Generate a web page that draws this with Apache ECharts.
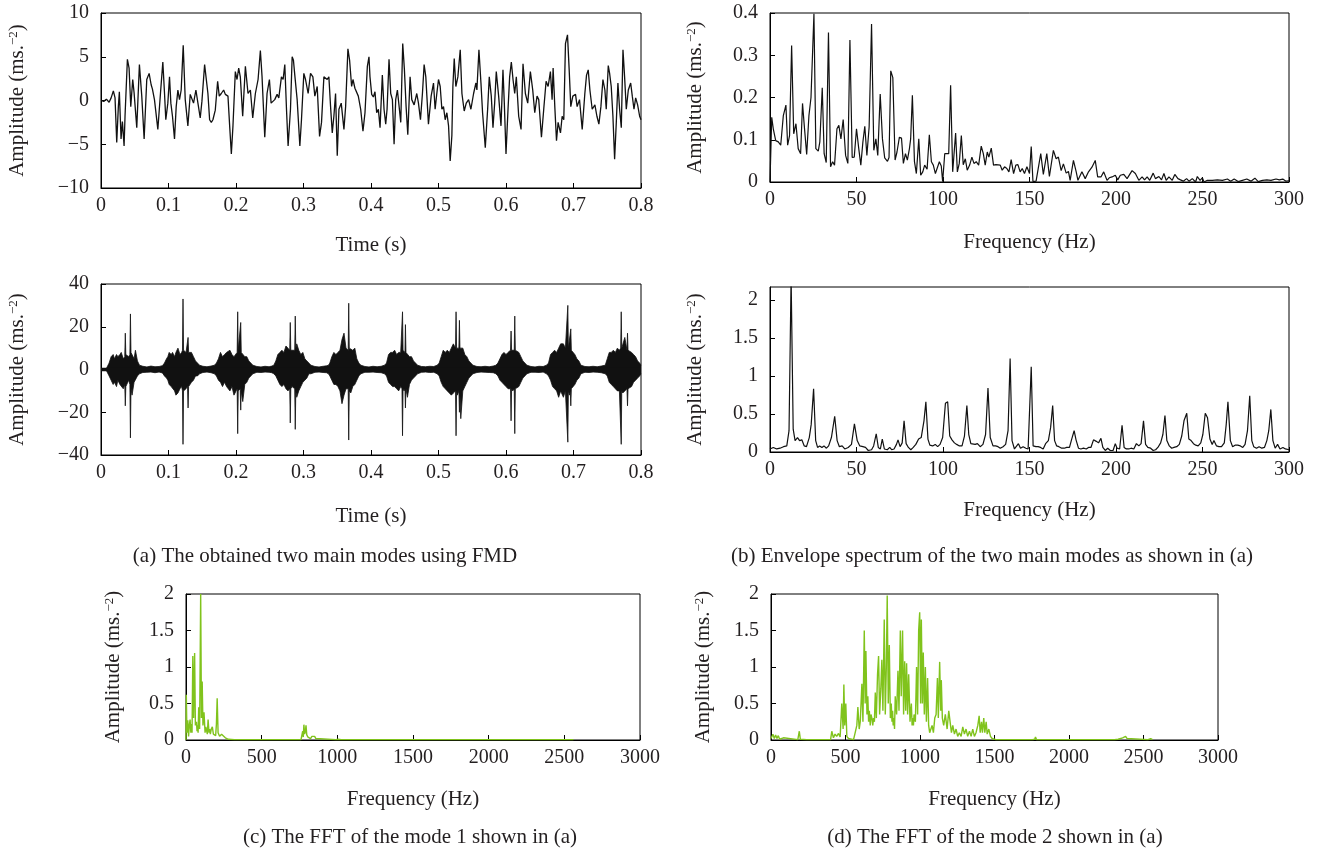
<!DOCTYPE html>
<html>
<head>
<meta charset="utf-8">
<script src="https://cdn.jsdelivr.net/npm/echarts@6/dist/echarts.min.js"></script>
<style>
  body { margin: 0; background: #fff; }
  #chart { width: 1319px; height: 852px; }
</style>
</head>
<body>
<div id="chart"></div>
<script>
// mode 1 time signal [time s, amplitude]
const mode1Signal = [
  [0,0],[0.004,-0.1],[0.008,0.15],[0.012,-0.2],[0.015,0.3],[0.0183,1.1],[0.0208,0.3],[0.0233,-4.8],[0.0257,-0.7],[0.0272,1.0],
  [0.0297,-4.4],[0.0317,-2.4],[0.0342,-5.2],[0.0356,-1.8],[0.0391,4.7],[0.0416,3.7],[0.0441,-0.7],[0.047,2.4],[0.049,0.9],[0.053,-3.1],
  [0.0569,4.1],[0.0604,0.5],[0.0639,-4.4],[0.0678,2.4],[0.0713,3.1],[0.0743,1.8],[0.0762,1.3],[0.0792,0.1],[0.0842,-3.3],[0.0881,0.8],
  [0.0916,4.4],[0.0941,0.8],[0.096,-2.2],[0.099,-0.3],[0.1015,2.7],[0.1035,-0.3],[0.1059,-1.8],[0.1089,-4.4],[0.1114,-0.7],[0.1139,1.2],
  [0.1163,0.1],[0.1188,1.2],[0.1218,6.3],[0.1248,0.1],[0.1287,-2.9],[0.1322,0.7],[0.1347,0.5],[0.1371,-0.3],[0.1406,1.2],[0.1436,-0.3],
  [0.147,-2.0],[0.1495,-0.1],[0.1535,4.1],[0.1554,4.2],[0.1584,0.8],[0.1609,-2.2],[0.1634,-2.5],[0.1658,-2.2],[0.1693,-1.1],[0.1728,2.2],
  [0.1752,0.5],[0.1782,0.8],[0.1817,1.2],[0.1842,0.7],[0.1881,0.5],[0.1906,-2.9],[0.1931,-6.1],[0.1955,-2.9],[0.199,3.3],[0.2015,2.4],
  [0.204,3.7],[0.2064,2.7],[0.2099,-1.8],[0.2139,3.9],[0.2178,0.8],[0.2213,1.2],[0.2248,-2.0],[0.2287,0.8],[0.2327,2.4],[0.2361,5.7],
  [0.2386,2.7],[0.2426,-4.2],[0.246,0.8],[0.2495,2.4],[0.252,-0.3],[0.2545,-0.5],[0.2574,0.1],[0.2609,0.7],[0.2634,0.3],[0.2673,2.7],
  [0.2698,2.4],[0.2723,4.1],[0.2748,-1.0],[0.2772,-5.2],[0.2807,-1.0],[0.2832,5.0],[0.2851,4.6],[0.2871,2.9],[0.2906,0.1],[0.2946,-5.2],
  [0.297,-2.2],[0.3005,3.1],[0.303,2.4],[0.3069,0.8],[0.3104,3.1],[0.3139,2.7],[0.3168,0.5],[0.3203,1.6],[0.3238,-4.1],[0.3267,-2.5],
  [0.3302,2.7],[0.3327,2.9],[0.3351,2.4],[0.3376,2.7],[0.3401,-0.7],[0.3426,-3.7],[0.345,-1.8],[0.3475,0.8],[0.35,-6.3],[0.3525,-1.0],
  [0.3559,-0.3],[0.3599,-3.3],[0.3624,-0.7],[0.3658,5.9],[0.3683,4.6],[0.3713,1.6],[0.3733,2.4],[0.3762,1.4],[0.3787,1.2],[0.3812,0.5],
  [0.3847,-1.0],[0.3881,-3.5],[0.3911,-1.4],[0.3946,3.9],[0.397,5.0],[0.3985,2.7],[0.401,0.7],[0.4035,0.4],[0.4059,1.0],[0.4084,-1.4],
  [0.4109,-1.0],[0.4134,-3.1],[0.4168,2.9],[0.4193,-1.0],[0.4218,-2.7],[0.4238,-1.0],[0.4267,4.7],[0.4292,0.8],[0.4317,0.1],[0.4342,-5.0],
  [0.4366,0.1],[0.4391,1.2],[0.4416,1.4],[0.4441,-2.5],[0.447,6.5],[0.4495,3.5],[0.452,-0.7],[0.4545,-3.9],[0.4579,2.7],[0.4604,0.1],
  [0.4639,-0.5],[0.4678,0.8],[0.4703,-0.3],[0.4733,-2.2],[0.4762,0.8],[0.4787,4.1],[0.4812,2.7],[0.4851,-2.7],[0.4891,0.5],[0.4926,2.0],
  [0.495,-1.0],[0.4975,0.8],[0.5,2.4],[0.5025,1.6],[0.505,-1.0],[0.5074,-0.7],[0.5099,-2.2],[0.5124,-1.4],[0.5149,-2.9],[0.5173,-6.9],
  [0.5198,-4.0],[0.5213,1.6],[0.5233,4.8],[0.5257,1.6],[0.5287,2.7],[0.5322,5.8],[0.5347,0.8],[0.5381,-1.2],[0.5411,-0.3],[0.5446,0.1],
  [0.548,-1.0],[0.552,0.8],[0.5554,2.0],[0.5569,1.2],[0.5599,5.8],[0.5629,2.0],[0.5653,-1.4],[0.5693,-5.4],[0.5728,-1.0],[0.5752,2.7],
  [0.5782,0.5],[0.5807,-3.1],[0.5832,-0.3],[0.5856,3.3],[0.5891,0.5],[0.5926,-2.9],[0.5955,3.5],[0.5975,-0.3],[0.6,-6.1],[0.603,-1.0],
  [0.6054,2.7],[0.6079,4.4],[0.6104,2.4],[0.6129,0.8],[0.6153,2.7],[0.6188,-1.8],[0.6223,-3.3],[0.6252,4.2],[0.6287,0.8],[0.6322,-0.3],
  [0.6361,3.3],[0.6396,1.2],[0.6426,-1.4],[0.646,0.5],[0.6485,0.1],[0.6525,-4.2],[0.6559,-1.0],[0.6594,2.2],[0.6624,1.6],[0.6658,3.3],
  [0.6683,0.1],[0.6698,3.7],[0.6723,-0.7],[0.6748,-4.6],[0.6772,-2.5],[0.6807,-3.7],[0.6832,-1.8],[0.6856,-2.2],[0.6881,6.5],[0.6911,7.5],
  [0.6936,3.5],[0.696,-0.7],[0.699,0.5],[0.703,0.7],[0.7054,-0.7],[0.7089,0.1],[0.7129,-3.3],[0.7168,0.8],[0.7193,2.9],[0.7218,3.5],
  [0.7243,1.2],[0.7277,-1.0],[0.7317,-0.5],[0.7347,-1.8],[0.7376,-2.7],[0.7406,-0.7],[0.7436,2.4],[0.7465,1.2],[0.7485,-1.0],[0.7515,4.0],
  [0.7535,3.1],[0.7559,1.6],[0.7584,-1.8],[0.7609,-6.7],[0.7634,-2.5],[0.7658,2.0],[0.7683,-1.0],[0.7708,-3.1],[0.7733,5.8],[0.7757,2.7],
  [0.7782,-1.0],[0.7812,1.2],[0.7847,2.0],[0.7871,0.5],[0.7896,-1.0],[0.7921,0.3],[0.795,-0.5],[0.798,-1.8],[0.8,-2.2]
]

// envelope spectrum of mode 1 [Hz, amplitude]
const envelope1 = [
  [0,0],[1,0.153],[1.9,0.126],[3.3,0.098],[4.8,0.095],[6.2,0.087],[7.7,0.157],[9.2,0.182],[10.2,0.087],[11.3,0.11],
  [12.5,0.323],[13.7,0.114],[15,0.138],[16.3,0.079],[17.7,0.067],[18.8,0.186],[19.8,0.134],[21.2,0.065],[22.5,0.157],[23.7,0.2],
  [25.4,0.398],[26.5,0.079],[27.9,0.073],[28.8,0.095],[30.2,0.223],[31.3,0.067],[32.5,0.046],[33.8,0.354],[35,0.036],[36.2,0.048],
  [37.3,0.04],[38.7,0.126],[39.8,0.134],[41,0.102],[42.3,0.148],[43.7,0.063],[45,0.044],[46.2,0.336],[47.5,0.058],[48.7,0.059],
  [50,0.126],[51.3,0.079],[52.5,0.04],[53.7,0.095],[54.8,0.132],[56,0.063],[57.3,0.13],[58.7,0.374],[60,0.075],[61.2,0.102],
  [62.3,0.063],[63.7,0.208],[65,0.102],[66.3,0.057],[67.9,0.049],[68.8,0.058],[69.8,0.263],[71,0.247],[72.3,0.052],[73.4,0.071],
  [74.8,0.106],[76,0.104],[77.1,0.044],[78.3,0.067],[79.4,0.052],[80.6,0.079],[81.3,0.102],[82.3,0.205],[83.5,0.048],[84.6,0.02],
  [86,0.102],[87.1,0.016],[88.3,0.024],[89.4,0.04],[90.8,0.03],[92.1,0.112],[93.3,0.048],[94.4,0.04],[95.6,0.02],[96.7,0.02],
  [97.9,0.048],[99,0.038],[99.8,0.001],[101,0.067],[102.1,0.063],[103.3,0.067],[104.4,0.229],[105.6,0.024],[106.5,0.024],[107.3,0.116],
  [108.3,0.024],[109.4,0.044],[110.6,0.11],[111.7,0.041],[112.9,0.055],[114,0.028],[115.4,0.04],[116.7,0.059],[117.9,0.044],[119.2,0.048],
  [120.6,0.04],[122.1,0.085],[123.3,0.067],[124.4,0.04],[125.6,0.071],[126.5,0.059],[127.9,0.08],[129.2,0.04],[130.6,0.041],[131.7,0.044],
  [133.1,0.04],[134.2,0.028],[135.6,0.036],[136.9,0.032],[138.1,0.024],[139.4,0.053],[140.8,0.02],[142.1,0.04],[143.3,0.041],[144.6,0.024],
  [145.8,0.032],[147.1,0.02],[148.5,0.036],[150,0.02],[151,0.084],[152,0.001],[153.8,0.002],[156.5,0.067],[158,0.018],[160,0.067],
  [161.5,0.013],[163.8,0.075],[165.4,0.055],[166.7,0.059],[168.3,0.027],[169.6,0.043],[171.2,0.021],[172.5,0.025],[173.5,0.004],[175.4,0.051],
  [177,0.024],[178,0.004],[180.3,0.024],[182.2,0.008],[184.1,0.024],[186.1,0.035],[188,0.051],[189.4,0.012],[191.3,0.012],[192.9,0.024],
  [194.8,0.004],[196.1,0.01],[197.7,0.012],[199.6,0.016],[201,0.005],[202.5,0.016],[204.5,0.018],[206.4,0.008],[209.3,0.027],[211.2,0.02],
  [213.2,0.004],[215.1,0.012],[216.5,0.005],[218,0.012],[219.5,0.004],[221.5,0.021],[222.8,0.008],[224.8,0.013],[226.3,0.005],[227.7,0.02],
  [229,0.004],[230.6,0.012],[232.5,0.004],[234,0.018],[235.8,0.008],[237.3,0.005],[238.9,0.002],[240.8,0.008],[242.2,0.002],[244.1,0.008],
  [246,0],[247,0.013],[248.6,0.004],[249.9,0.01],[250.9,0],[252.8,0.004],[255.7,0.004],[258.6,0.005],[261.5,0.004],[264.4,0.007],
  [266.3,0.002],[268.3,0.007],[270.6,0.001],[273.1,0.004],[275.6,0.007],[278,0.002],[280.3,0.009],[282.2,0.001],[284.7,0.004],[287.2,0.005],
  [289.6,0.004],[292.5,0.007],[294.4,0.005],[296.4,0.007],[298.3,0.002],[300,0.003]
]

// mode 2 time signal, read as envelope [time s, upper, lower]
const mode2Envelope = [
  [0,0.3,-0.3],[0.004,0.4,-0.4],[0.008,0.5,-0.5],[0.01,1,-1],
  [0.012,3,-3],[0.015,6,-5],[0.018,7,-7],[0.02,5,-6],[0.023,7,-8],[0.025,6,-5],[0.028,7,-7],[0.03,8,-7],[0.033,5,-9],
  [0.0352,6,-7],[0.036,17,-17],[0.0368,7,-8],[0.039,7,-8],[0.041,6,-5],[0.0428,7,-7],[0.0436,26,-32],[0.0444,8,-9],
  [0.046,8,-12],[0.049,5,-6],[0.051,9,-6],[0.054,4,-3],[0.057,2,-2],
  [0.062,1.5,-1.4],[0.068,1.2,-1.3],[0.074,1.6,-1.2],[0.08,1.3,-1.5],[0.086,1.4,-1.2],[0.091,1.8,-1.6],
  [0.094,3,-3],[0.097,5,-4],[0.099,6,-5],[0.101,8,-7],[0.104,7,-8],[0.106,8,-8],[0.109,6,-10],[0.111,8,-12],[0.114,10,-11],
  [0.117,7,-9],[0.1195,8,-8],[0.1207,9,-10],[0.1215,33,-35],[0.1223,9,-10],[0.124,9,-10],[0.126,8,-9],[0.1282,8,-8],
  [0.129,15,-18],[0.1298,8,-8],[0.131,8,-8],[0.134,8,-6],[0.137,6,-5],[0.14,4,-3],[0.143,3,-3],[0.146,2,-2],
  [0.151,1.5,-1.4],[0.157,1.3,-1.2],[0.163,1.6,-1.5],
  [0.168,2,-2],[0.171,3,-3],[0.174,5,-5],[0.177,8,-6],[0.18,6,-8],[0.183,7,-6],[0.186,8,-8],[0.188,8,-8],[0.191,9,-10],
  [0.194,7,-8],[0.197,6,-12],[0.2017,8,-9],[0.2025,27,-30],[0.2033,9,-10],[0.205,9,-10],[0.2062,9,-9],[0.207,22,-19],
  [0.2078,8,-10],[0.21,8,-15],[0.213,6,-7],[0.216,6,-6],[0.219,4,-4],[0.222,3,-3],[0.225,2,-2],
  [0.231,1.4,-1.3],[0.237,1.2,-1.4],[0.243,1.5,-1.2],[0.249,1.3,-1.3],[0.253,1.6,-1.5],
  [0.256,2,-2],[0.259,4,-3],[0.262,7,-5],[0.265,8,-7],[0.268,9,-8],[0.271,8,-7],[0.274,11,-9],[0.277,10,-10],
  [0.2796,9,-9],[0.2804,22,-25],[0.2812,9,-9],[0.283,9,-8],[0.287,9,-9],[0.2878,25,-28],[0.2886,10,-10],[0.29,12,-13],
  [0.293,9,-10],[0.296,7,-8],[0.299,8,-6],[0.302,5,-5],[0.305,4,-4],[0.308,3,-2],[0.311,2,-2],
  [0.317,1.4,-1.3],[0.323,1.2,-1.2],[0.329,1.5,-1.4],[0.334,1.7,-1.5],
  [0.337,2,-2],[0.339,3,-3],[0.342,6,-5],[0.345,8,-7],[0.348,7,-7],[0.351,8,-8],[0.354,9,-10],[0.357,14,-16],[0.36,17,-12],
  [0.363,10,-9],[0.3662,9,-9],[0.367,31,-33],[0.3678,10,-10],[0.37,10,-11],[0.373,9,-8],[0.376,10,-7],[0.379,5,-5],
  [0.382,3,-3],[0.385,2,-2],
  [0.391,1.4,-1.3],[0.397,1.2,-1.3],[0.403,1.5,-1.2],[0.409,1.3,-1.4],[0.415,1.5,-1.5],
  [0.42,2,-2],[0.423,3,-3],[0.426,7,-6],[0.429,8,-7],[0.432,8,-8],[0.435,9,-8],[0.438,7,-9],[0.441,8,-10],[0.444,8,-8],
  [0.4459,8,-9],[0.4467,27,-31],[0.4475,9,-9],[0.449,9,-10],[0.4503,8,-9],[0.451,21,-18],[0.4518,8,-9],[0.454,8,-13],
  [0.457,6,-7],[0.46,6,-5],[0.463,4,-4],[0.466,3,-3],[0.469,2,-2],
  [0.475,1.4,-1.3],[0.481,1.3,-1.2],[0.487,1.5,-1.4],[0.493,1.4,-1.3],
  [0.498,2,-2],[0.501,3,-3],[0.504,6,-6],[0.507,9,-8],[0.51,8,-9],[0.513,9,-10],[0.516,8,-11],[0.519,10,-12],[0.522,12,-11],
  [0.5252,10,-10],[0.526,27,-31],[0.5268,10,-10],[0.528,10,-12],[0.5302,10,-10],[0.531,23,-20],[0.5318,10,-12],
  [0.533,10,-23],[0.536,10,-10],[0.539,7,-8],[0.542,6,-6],[0.545,4,-4],[0.548,3,-3],[0.551,2,-2],
  [0.557,1.4,-1.4],[0.563,1.3,-1.2],[0.569,1.5,-1.3],[0.575,1.3,-1.4],[0.581,1.6,-1.5],
  [0.585,2,-2],[0.588,3,-3],[0.591,5,-5],[0.594,7,-6],[0.597,8,-7],[0.6,7,-8],[0.603,8,-9],[0.6067,9,-9],[0.6075,18,-24],
  [0.6083,9,-9],[0.61,9,-10],[0.6122,9,-9],[0.613,25,-30],[0.6138,9,-9],[0.616,9,-9],[0.619,8,-8],[0.622,6,-6],
  [0.625,4,-4],[0.628,3,-3],[0.631,2,-2],
  [0.637,1.4,-1.3],[0.643,1.2,-1.3],[0.649,1.5,-1.4],[0.655,1.4,-1.2],
  [0.66,2,-2],[0.663,3,-3],[0.666,7,-5],[0.669,8,-8],[0.672,9,-9],[0.675,8,-10],[0.678,10,-13],[0.681,12,-10],[0.685,12,-13],
  [0.688,10,-10],[0.6908,10,-10],[0.6916,30,-34],[0.6924,10,-10],[0.694,10,-12],[0.6952,10,-10],[0.696,19,-17],
  [0.6968,9,-9],[0.699,9,-9],[0.702,7,-7],[0.705,5,-5],[0.708,4,-4],[0.711,2,-2],
  [0.717,1.4,-1.3],[0.723,1.3,-1.4],[0.729,1.5,-1.2],[0.735,1.3,-1.3],[0.741,1.6,-1.5],
  [0.747,2,-2],[0.75,5,-3],[0.753,8,-6],[0.756,8,-7],[0.759,9,-8],[0.762,8,-9],[0.765,10,-10],[0.768,9,-10],[0.7699,10,-10],
  [0.7707,27,-35],[0.7715,10,-10],[0.773,10,-11],[0.776,15,-10],[0.7792,9,-9],[0.78,17,-17],[0.7808,9,-9],[0.783,9,-9],
  [0.786,8,-8],[0.789,7,-6],[0.792,6,-5],[0.795,4,-4],[0.798,3,-3],[0.8,2,-2]
]

// envelope spectrum of mode 2 [Hz, amplitude]
const envelope2 = [
  [0,0.04],[1.9,0.06],[3.9,0.04],[5.8,0.05],[7.8,0.07],[9.7,0.08],[11,0.28],[12.2,2.3],[13.4,0.3],[14.5,0.15],
  [15.9,0.19],[17.1,0.15],[18.4,0.16],[19.8,0.08],[21.1,0.07],[22.7,0.19],[23.8,0.36],[25.2,0.83],[26.4,0.15],[27.5,0.06],
  [28.7,0.08],[30,0.06],[31.2,0.08],[32.6,0.05],[33.9,0.08],[35.5,0.19],[37.4,0.47],[38.8,0.15],[40.1,0.07],[41.7,0.08],
  [43.2,0.04],[45.2,0.06],[47.1,0.1],[48.8,0.37],[50.4,0.15],[51.9,0.08],[53.7,0.07],[55.2,0.06],[56.8,0.02],[58.7,0.03],
  [59.9,0.08],[61.4,0.24],[62.6,0.06],[63.8,0.04],[64.9,0.17],[66.1,0.04],[67.8,0.03],[69.2,0.06],[70.3,0.03],[71.7,0.04],
  [73.1,0.1],[74,0.16],[75.2,0.07],[76.4,0.12],[77.5,0.41],[78.7,0.11],[80,0.06],[81.4,0.03],[82.8,0.06],[84.3,0.1],
  [85.9,0.17],[87.4,0.19],[89,0.41],[90.1,0.66],[91.3,0.17],[92.4,0.09],[94,0.08],[95.5,0.1],[96.9,0.07],[98.3,0.1],
  [99.8,0.19],[101.4,0.64],[102.7,0.66],[103.9,0.21],[105.2,0.16],[106.6,0.12],[107.9,0.1],[109.5,0.08],[111,0.08],[112.4,0.21],
  [113.8,0.61],[114.9,0.23],[116.1,0.11],[117.2,0.12],[118.6,0.1],[119.9,0.11],[121.5,0.07],[123.1,0.1],[124.6,0.23],[126,0.84],
  [127.3,0.19],[128.9,0.08],[130.4,0.08],[131.8,0.07],[133.1,0.05],[134.7,0.07],[136.2,0.1],[137.6,0.28],[138.8,1.23],[139.9,0.15],
  [141.3,0.04],[142.4,0.04],[143.6,0.11],[144.8,0.05],[146.3,0.07],[147.9,0.05],[149.2,0.04],[150.2,0.02],[151,1.12],[152.1,0.08],
  [153.7,0.07],[155,0.07],[156.4,0.06],[157.9,0.04],[159.3,0.11],[160.9,0.15],[162.2,0.32],[163.4,0.61],[164.5,0.15],[165.7,0.08],
  [167,0.07],[168.6,0.05],[170.1,0.05],[171.5,0.06],[173.1,0.06],[174.4,0.17],[175.8,0.28],[176.9,0.16],[178.3,0.05],[179.7,0.04],
  [181.2,0.05],[182.8,0.04],[184.1,0.06],[185.5,0.06],[187,0.16],[188.6,0.14],[189.9,0.12],[191.3,0.18],[192.4,0.06],[193.8,0.02],
  [195.2,0.05],[196.7,0.02],[198.3,0.02],[199.6,0.11],[200.6,0.05],[202.1,0.04],[203.5,0.35],[204.7,0.06],[206,0.04],[207.4,0.04],
  [208.7,0.05],[210.3,0.04],[211.8,0.11],[213.2,0.08],[214.5,0.11],[215.9,0.41],[217.1,0.1],[218.4,0.06],[220,0.05],[221.5,0.02],
  [222.9,0.03],[224.2,0.06],[225.8,0.12],[227.1,0.23],[228.3,0.48],[229.4,0.15],[230.8,0.08],[232.2,0.05],[233.5,0.06],[235.1,0.07],
  [236.6,0.1],[238,0.21],[239.3,0.41],[240.9,0.51],[242.1,0.17],[243.4,0.15],[244.8,0.11],[246.1,0.09],[247.5,0.08],[249,0.12],
  [250.2,0.23],[251.6,0.51],[252.9,0.45],[254.3,0.17],[255.6,0.1],[256.6,0.15],[258.1,0.08],[259.5,0.07],[261,0.07],[262.6,0.12],
  [263.7,0.36],[264.7,0.66],[266.1,0.15],[267.4,0.07],[268.8,0.09],[270.4,0.09],[271.9,0.08],[273.3,0.06],[274.6,0.1],[276,0.28],
  [277.3,0.74],[278.5,0.15],[279.6,0.07],[281.2,0.05],[282.7,0.07],[284.3,0.05],[285.8,0.06],[287.2,0.15],[288.3,0.28],[289.5,0.56],
  [290.7,0.15],[292,0.05],[293.4,0.1],[294.8,0.04],[296.5,0.06],[297.9,0.04],[300,0.03]
]

// FFT of mode 1 [Hz, amplitude]
const fftMode1 = [
  [0,0],[2,0.62],[6,0.1],[12,0.27],[17,0.05],[22,0.2],[27,0.28],[32,0.1],[36,0.22],[40,0.1],[45,1.15],[50,0.3],
  [57,1.19],[62,0.2],[69,0.25],[73,0.12],[76,0.2],[80,0.1],[84,0.45],[90,0.15],[97,2.0],[102,0.3],[107,0.8],[112,0.2],
  [119,0.38],[126,0.1],[131,0.18],[136,0.2],[141,0.08],[146,0.28],[152,0.1],[156,0.15],[161,0.08],[167,0.15],[174,0.18],[181,0.08],
  [190,0.1],[196,0.06],[201,0.22],[206,0.57],[212,0.1],[222,0.05],[235,0.08],[248,0.07],[260,0.03],[280,0.01],
  [320,0.005],[760,0.005],[764,0.03],[771,0.12],[775,0.04],[779,0.21],[784,0.08],[789,0.12],[793,0.2],[798,0.07],
  [806,0.04],[815,0.05],[823,0.02],[832,0.05],[850,0.05],[858,0.02],[870,0.005],[990,0.005],[999,0.02],[1005,0.01],
  [1012,0.02],[1025,0.005],[1185,0.005],[1190,0.015],[1196,0.005],[2560,0.005]
]

// FFT of mode 2 [Hz, amplitude]
const fftMode2 = [
  [0,0.02],[4,0.04],[13,0.08],[22,0.02],[31,0.07],[40,0.02],[49,0.06],[58,0.01],[83,0.03],[95,0.005],
  [180,0.005],[190,0.12],[197,0.01],[240,0.005],[245,0.02],[250,0.005],[295,0.005],[300,0.02],[305,0.005],[400,0.005],
  [408,0.12],[419,0.03],[430,0.08],[441,0.05],[453,0.09],[464,0.04],[475,0.5],[484,0.15],[489,0.76],[495,0.2],
  [502,0.5],[509,0.05],[520,0.02],[531,0.005],[554,0.005],[565,0.1],[576,0.2],[583,0.45],[592,0.15],[599,0.25],
  [610,0.77],[617,0.25],[626,1.5],[632,0.5],[637,1.22],[644,0.35],[650,0.6],[655,0.25],[660,0.4],[666,0.2],[671,0.35],[677,0.3],
  [683,0.2],[688,0.3],[694,0.25],[700,0.65],[707,0.3],[715,0.9],[722,1.15],[729,0.35],[737,0.7],[744,1.1],[751,0.4],[760,1.65],
  [767,0.35],[774,1.0],[780,1.98],[787,0.5],[794,1.3],[801,0.3],[807,0.5],[812,0.25],[816,0.4],[820,0.2],[825,0.3],[829,0.15],[834,0.6],
  [843,0.35],[852,0.95],[859,0.4],[868,1.5],[874,0.6],[883,1.5],[890,0.35],[897,1.08],[904,0.4],[910,1.05],
  [917,0.35],[924,0.9],[933,0.25],[938,0.4],[942,0.5],[947,0.2],[951,0.3],[956,0.2],[960,0.35],[969,0.25],[977,1.0],[984,0.35],[991,1.5],
  [998,1.75],[1004,0.5],[1009,1.65],[1016,0.5],[1022,1.2],[1029,0.35],[1036,1.0],[1043,0.25],[1051,0.85],[1058,0.2],
  [1065,0.1],[1074,0.08],[1081,0.2],[1090,0.1],[1099,0.3],[1108,0.35],[1117,0.85],[1123,0.3],[1132,1.07],[1139,0.4],
  [1143,0.82],[1150,0.3],[1159,0.2],[1170,0.35],[1182,0.15],[1193,0.4],[1205,0.4],[1211,0.1],[1220,0.2],[1231,0.08],
  [1242,0.15],[1253,0.05],[1264,0.1],[1276,0.05],[1287,0.18],[1298,0.08],[1309,0.15],[1320,0.05],[1332,0.12],[1343,0.05],
  [1354,0.15],[1365,0.05],[1376,0.1],[1388,0.2],[1397,0.33],[1404,0.1],[1413,0.25],[1419,0.1],[1428,0.3],[1435,0.1],
  [1444,0.25],[1451,0.08],[1462,0.15],[1473,0.05],[1484,0.02],[1495,0.01],[1510,0.005],[1600,0.005],[1607,0.03],[1614,0.005],
  [1755,0.005],[1764,0.03],[1770,0.01],[1775,0.04],[1782,0.005],[1925,0.005],[1933,0.02],[1940,0.005],[2060,0.005],[2067,0.02],
  [2074,0.005],[2305,0.005],[2314,0.02],[2330,0.01],[2360,0.03],[2370,0.045],[2380,0.05],[2390,0.02],[2400,0.005],[2530,0.005],
  [2538,0.03],[2548,0.02],[2560,0.005]
]

const captions = [
  '(a) The obtained two main modes using FMD',
  '(b) Envelope spectrum of the two main modes as shown in (a)',
  '(c) The FFT of the mode 1 shown in (a)',
  '(d) The FFT of the mode 2 shown in (a)'
]

const FONT = 'Liberation Serif'
const INK = '#231f20'
const BLACK = '#111'
const GREEN = '#80c31c'

const fmt = v => String(+(+v).toFixed(3)).replace('-', '\u2212')

function grid(left, top, width, height) {
  return { left, top, width, height, show: true, borderColor: '#000', borderWidth: 1 }
}

function xAxis(gridIndex, min, max, interval, name, nameGap) {
  return {
    gridIndex, type: 'value', min, max, interval,
    name, nameLocation: 'middle', nameGap,
    nameTextStyle: { fontFamily: FONT, fontSize: 21, color: INK },
    axisLine: { onZero: false, lineStyle: { color: '#000', width: 1 } },
    axisTick: { inside: true, length: 5, lineStyle: { color: '#000' } },
    axisLabel: { fontFamily: FONT, fontSize: 20, color: INK, margin: 8, formatter: fmt },
    splitLine: { show: false }
  }
}

function yAxis(gridIndex, min, max, interval, nameGap, hideMax) {
  return {
    gridIndex, type: 'value', min, max, interval,
    name: '{n|Amplitude (ms.}{s|\u22122}{n|)}', nameLocation: 'middle', nameGap,
    nameTextStyle: {
      rich: {
        n: { fontFamily: FONT, fontSize: 21, color: INK },
        s: { fontFamily: FONT, fontSize: 13, color: INK, verticalAlign: 'top' }
      }
    },
    axisLine: { onZero: false, lineStyle: { color: '#000', width: 1 } },
    axisTick: { inside: true, length: 5, lineStyle: { color: '#000' } },
    axisLabel: { fontFamily: FONT, fontSize: 20, color: INK, margin: 12, formatter: fmt, showMaxLabel: hideMax ? false : null },
    splitLine: { show: false }
  }
}

function line(idx, data, color, width, extra) {
  return Object.assign({
    type: 'line', xAxisIndex: idx, yAxisIndex: idx, data,
    showSymbol: false, symbol: 'none', animation: false, clip: true,
    lineStyle: { color, width }
  }, extra || {})
}

const chart = echarts.init(document.getElementById('chart'))

chart.setOption({
  backgroundColor: '#fff',
  grid: [
    grid(101, 13, 540, 175),
    grid(770, 13, 519, 169),
    grid(101, 284, 540, 171),
    grid(770, 287, 519, 165),
    grid(186, 594, 454, 146),
    grid(771, 594, 447, 146)
  ],
  xAxis: [
    xAxis(0, 0, 0.8, 0.1, 'Time (s)', 47),
    xAxis(1, 0, 300, 50, 'Frequency (Hz)', 50),
    xAxis(2, 0, 0.8, 0.1, 'Time (s)', 51),
    xAxis(3, 0, 300, 50, 'Frequency (Hz)', 48),
    xAxis(4, 0, 3000, 500, 'Frequency (Hz)', 49),
    xAxis(5, 0, 3000, 500, 'Frequency (Hz)', 49)
  ],
  yAxis: [
    yAxis(0, -10, 10, 5, 73),
    yAxis(1, 0, 0.4, 0.1, 64),
    yAxis(2, -40, 40, 20, 73),
    yAxis(3, 0, 2.17, 0.5, 64, true),
    yAxis(4, 0, 2, 0.5, 62),
    yAxis(5, 0, 2, 0.5, 57)
  ],
  series: [
    line(0, mode1Signal, BLACK, 1.3),
    line(1, envelope1, BLACK, 1.2),
    // upper and lower envelope filled so that they overlap across the zero line
    line(2, mode2Envelope.map(r => [r[0], r[1]]), BLACK, 0.8, { areaStyle: { color: BLACK, opacity: 1, origin: -0.8 } }),
    line(2, mode2Envelope.map(r => [r[0], r[2]]), BLACK, 0.8, { areaStyle: { color: BLACK, opacity: 1, origin: 0.8 } }),
    line(3, envelope2, BLACK, 1.2),
    line(4, fftMode1, GREEN, 1.4),
    line(5, fftMode2, GREEN, 1.4)
  ],
  graphic: [
    [325, 556], [992, 556], [410, 837], [995, 837]
  ].map((p, i) => ({
    type: 'text', x: p[0], y: p[1], silent: true,
    style: {
      text: captions[i], font: '21px "' + FONT + '"', fill: INK,
      align: 'center', verticalAlign: 'middle', textAlign: 'center', textVerticalAlign: 'middle'
    }
  }))
})
</script>
</body>
</html>
